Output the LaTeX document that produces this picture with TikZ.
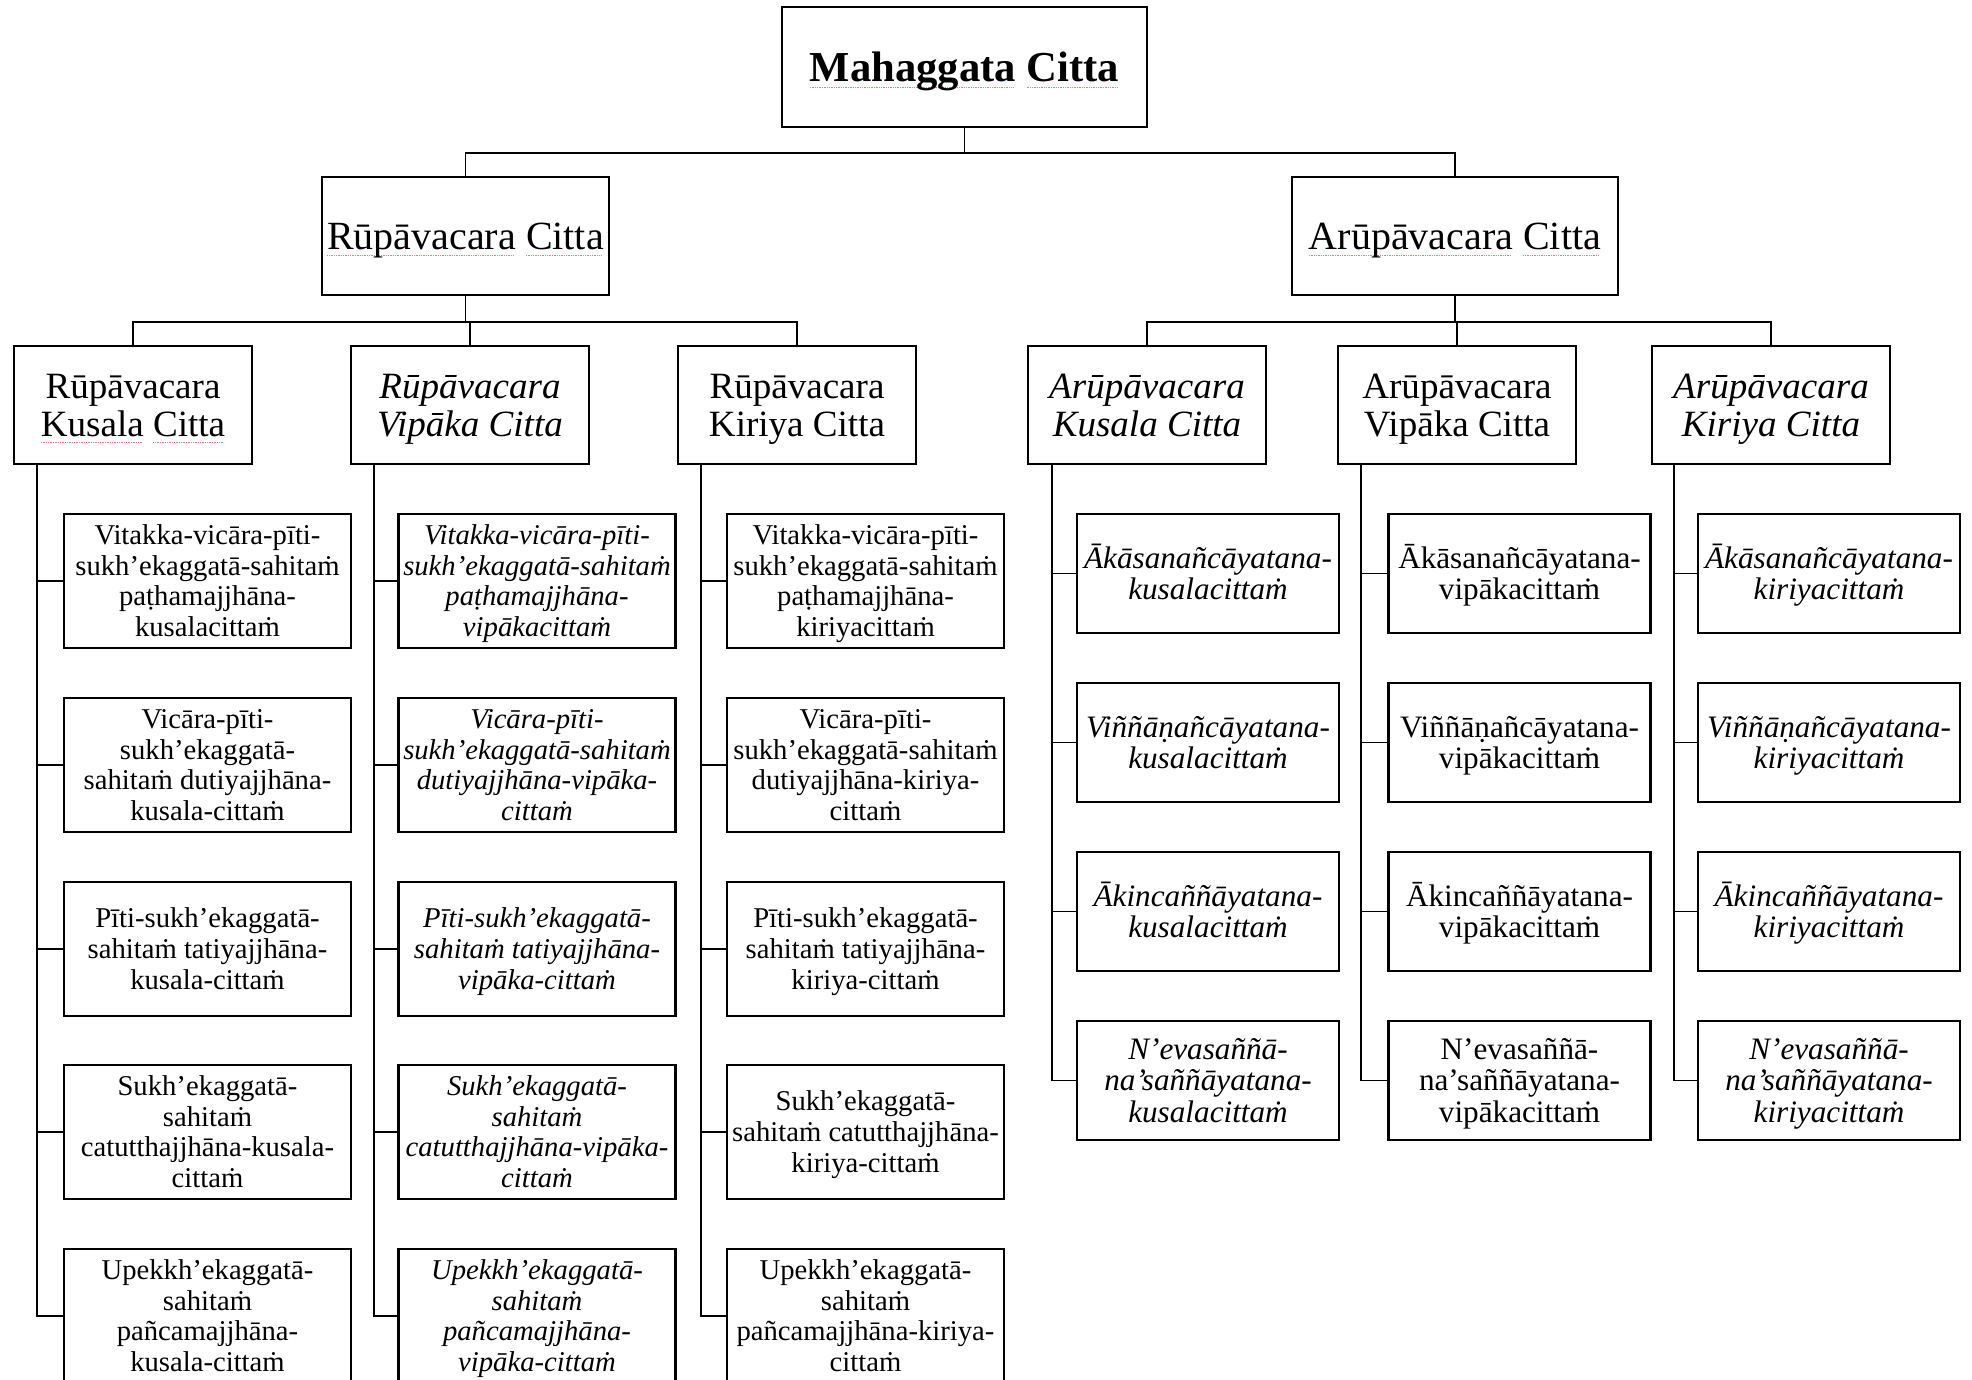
\documentclass[tikz,border=0pt]{standalone}
\usepackage{fontspec}
\setmainfont{Liberation Serif}
\usetikzlibrary{calc}

% faint red dotted underline, as left by a spell checker
\newsavebox\spellbox
\newcommand\spellmark[1]{\sbox\spellbox{#1}%
  \rlap{\raisebox{-0.17em}{\makebox[\wd\spellbox][l]{\color{red!55}\leaders\hbox to 1.3pt{\rule{0.7pt}{0.7pt}\hss}\hfill}}}%
  \usebox\spellbox}
% fixed first-line height, so every box places its text alike
\newcommand\tl{\rule{0pt}{0.95em}}

\begin{document}
\begin{tikzpicture}[x=0.75pt,y=-0.75pt,
  box/.style={draw, line width=1.8pt, align=center, inner sep=0pt,
    execute at end node={\rule[-0.29em]{0pt}{0pt}}},
  link/.style={line width=1.4pt},
  wd/.style={minimum width={#1*0.75pt}},
  ht/.style={minimum height={#1*0.75pt}},
  titlebox/.style={box, font=\fontsize{32}{34}\selectfont\bfseries},
  headbox/.style={box, font=\fontsize{30}{32}\selectfont},
  subbox/.style={box, wd=238, ht=118, font=\fontsize{27.8}{28.5}\selectfont},
  subboxi/.style={subbox, font=\fontsize{27.8}{28.5}\selectfont\itshape},
  leafl/.style={box, ht=134, font=\fontsize{21.5}{23}\selectfont},
  leafli/.style={leafl, font=\fontsize{21.5}{23}\selectfont\itshape},
  leafr/.style={box, wd=262, ht=119, font=\fontsize{23.4}{23.6}\selectfont},
  leafri/.style={leafr, font=\fontsize{23.4}{23.6}\selectfont\itshape}
]
\useasboundingbox (0,0) rectangle (1972,1379);

% ---- top levels
\node[titlebox, wd=365, ht=120] (top) at (964.5,67) {\tl\spellmark{Mahaggata} \spellmark{Citta}};
\node[headbox, wd=287, ht=118] (rc) at (465.5,236) {\tl\spellmark{Rūpāvacara} \spellmark{Citta}};
\node[headbox, wd=326, ht=118] (ac) at (1455,236) {\tl\spellmark{Arūpāvacara} \spellmark{Citta}};

\node[subbox]  (rk)  at (133,405)  {\tl Rūpāvacara\\\spellmark{Kusala} \spellmark{Citta}};
\node[subboxi] (rv)  at (470,405)  {\tl Rūpāvacara\\Vipāka Citta};
\node[subbox]  (rki) at (797,405)  {\tl Rūpāvacara\\Kiriya Citta};
\node[subboxi] (ak)  at (1147,405) {\tl Arūpāvacara\\Kusala Citta};
\node[subbox]  (av)  at (1457,405) {\tl Arūpāvacara\\Vipāka Citta};
\node[subboxi] (aki) at (1771,405) {\tl Arūpāvacara\\Kiriya Citta};

% ---- rūpāvacara kusala
\node[leafl, wd=287] (rk1) at (207.5,581)  {\tl Vitakka-vicāra-pīti-\\sukh’ekaggatā-sahitaṁ\\paṭhamajjhāna-\\kusalacittaṁ};
\node[leafl, wd=287] (rk2) at (207.5,765)  {\tl Vicāra-pīti-\\sukh’ekaggatā-\\sahitaṁ dutiyajjhāna-\\kusala-cittaṁ};
\node[leafl, wd=287] (rk3) at (207.5,949)  {\tl Pīti-sukh’ekaggatā-\\sahitaṁ tatiyajjhāna-\\kusala-cittaṁ};
\node[leafl, wd=287] (rk4) at (207.5,1132) {\tl Sukh’ekaggatā-\\sahitaṁ\\catutthajjhāna-kusala-\\cittaṁ};
\node[leafl, wd=287] (rk5) at (207.5,1316) {\tl Upekkh’ekaggatā-\\sahitaṁ\\pañcamajjhāna-\\kusala-cittaṁ};

% ---- rūpāvacara vipāka
\node[leafli, wd=277] (rv1) at (537,581)  {\tl Vitakka-vicāra-pīti-\\sukh’ekaggatā-sahitaṁ\\paṭhamajjhāna-\\vipākacittaṁ};
\node[leafli, wd=277] (rv2) at (537,765)  {\tl Vicāra-pīti-\\sukh’ekaggatā-sahitaṁ\\dutiyajjhāna-vipāka-\\cittaṁ};
\node[leafli, wd=277] (rv3) at (537,949)  {\tl Pīti-sukh’ekaggatā-\\sahitaṁ tatiyajjhāna-\\vipāka-cittaṁ};
\node[leafli, wd=277] (rv4) at (537,1132) {\tl Sukh’ekaggatā-\\sahitaṁ\\catutthajjhāna-vipāka-\\cittaṁ};
\node[leafli, wd=277] (rv5) at (537,1316) {\tl Upekkh’ekaggatā-\\sahitaṁ\\pañcamajjhāna-\\vipāka-cittaṁ};

% ---- rūpāvacara kiriya
\node[leafl, wd=277] (rr1) at (865.5,581)  {\tl Vitakka-vicāra-pīti-\\sukh’ekaggatā-sahitaṁ\\paṭhamajjhāna-\\kiriyacittaṁ};
\node[leafl, wd=277] (rr2) at (865.5,765)  {\tl Vicāra-pīti-\\sukh’ekaggatā-sahitaṁ\\dutiyajjhāna-kiriya-\\cittaṁ};
\node[leafl, wd=277] (rr3) at (865.5,949)  {\tl Pīti-sukh’ekaggatā-\\sahitaṁ tatiyajjhāna-\\kiriya-cittaṁ};
\node[leafl, wd=277] (rr4) at (865.5,1132) {\tl Sukh’ekaggatā-\\sahitaṁ catutthajjhāna-\\kiriya-cittaṁ};
\node[leafl, wd=277] (rr5) at (865.5,1316) {\tl Upekkh’ekaggatā-\\sahitaṁ\\pañcamajjhāna-kiriya-\\cittaṁ};

% ---- arūpāvacara kusala
\node[leafri] (ak1) at (1208,573.5)  {\tl Ākāsanañcāyatana-\\kusalacittaṁ};
\node[leafri] (ak2) at (1208,742.5)  {\tl Viññāṇañcāyatana-\\kusalacittaṁ};
\node[leafri] (ak3) at (1208,911.5)  {\tl Ākincaññāyatana-\\kusalacittaṁ};
\node[leafri] (ak4) at (1208,1080.5) {\tl N’evasaññā-\\na’saññāyatana-\\kusalacittaṁ};

% ---- arūpāvacara vipāka
\node[leafr] (av1) at (1519.5,573.5)  {\tl Ākāsanañcāyatana-\\vipākacittaṁ};
\node[leafr] (av2) at (1519.5,742.5)  {\tl Viññāṇañcāyatana-\\vipākacittaṁ};
\node[leafr] (av3) at (1519.5,911.5)  {\tl Ākincaññāyatana-\\vipākacittaṁ};
\node[leafr] (av4) at (1519.5,1080.5) {\tl N’evasaññā-\\na’saññāyatana-\\vipākacittaṁ};

% ---- arūpāvacara kiriya
\node[leafri] (ar1) at (1829,573.5)  {\tl Ākāsanañcāyatana-\\kiriyacittaṁ};
\node[leafri] (ar2) at (1829,742.5)  {\tl Viññāṇañcāyatana-\\kiriyacittaṁ};
\node[leafri] (ar3) at (1829,911.5)  {\tl Ākincaññāyatana-\\kiriyacittaṁ};
\node[leafri] (ar4) at (1829,1080.5) {\tl N’evasaññā-\\na’saññāyatana-\\kiriyacittaṁ};

% ---- tree connectors
\draw[link] (top.south) -- ++(0,25) -| (rc.north);
\draw[link] (top.south) -- ++(0,25) -| (ac.north);
\foreach \c in {rk,rv,rki} \draw[link] (rc.south) -- ++(0,26) -| (\c.north);
\foreach \c in {ak,av,aki} \draw[link] (ac.south) -- ++(0,26) -| (\c.north);

% ---- side spines with branches to each leaf
\coordinate (rks) at ($(rk.south west)+(24,0)$);
\coordinate (rvs) at ($(rv.south west)+(24,0)$);
\coordinate (rrs) at ($(rki.south west)+(24,0)$);
\coordinate (aks) at ($(ak.south west)+(25,0)$);
\coordinate (avs) at ($(av.south west)+(24,0)$);
\coordinate (ars) at ($(aki.south west)+(23,0)$);
\foreach \i in {1,...,5} {
  \draw[link] (rks) |- (rk\i.west);
  \draw[link] (rvs) |- (rv\i.west);
  \draw[link] (rrs) |- (rr\i.west);
}
\foreach \i in {1,...,4} {
  \draw[link] (aks) |- (ak\i.west);
  \draw[link] (avs) |- (av\i.west);
  \draw[link] (ars) |- (ar\i.west);
}
\end{tikzpicture}
\end{document}
